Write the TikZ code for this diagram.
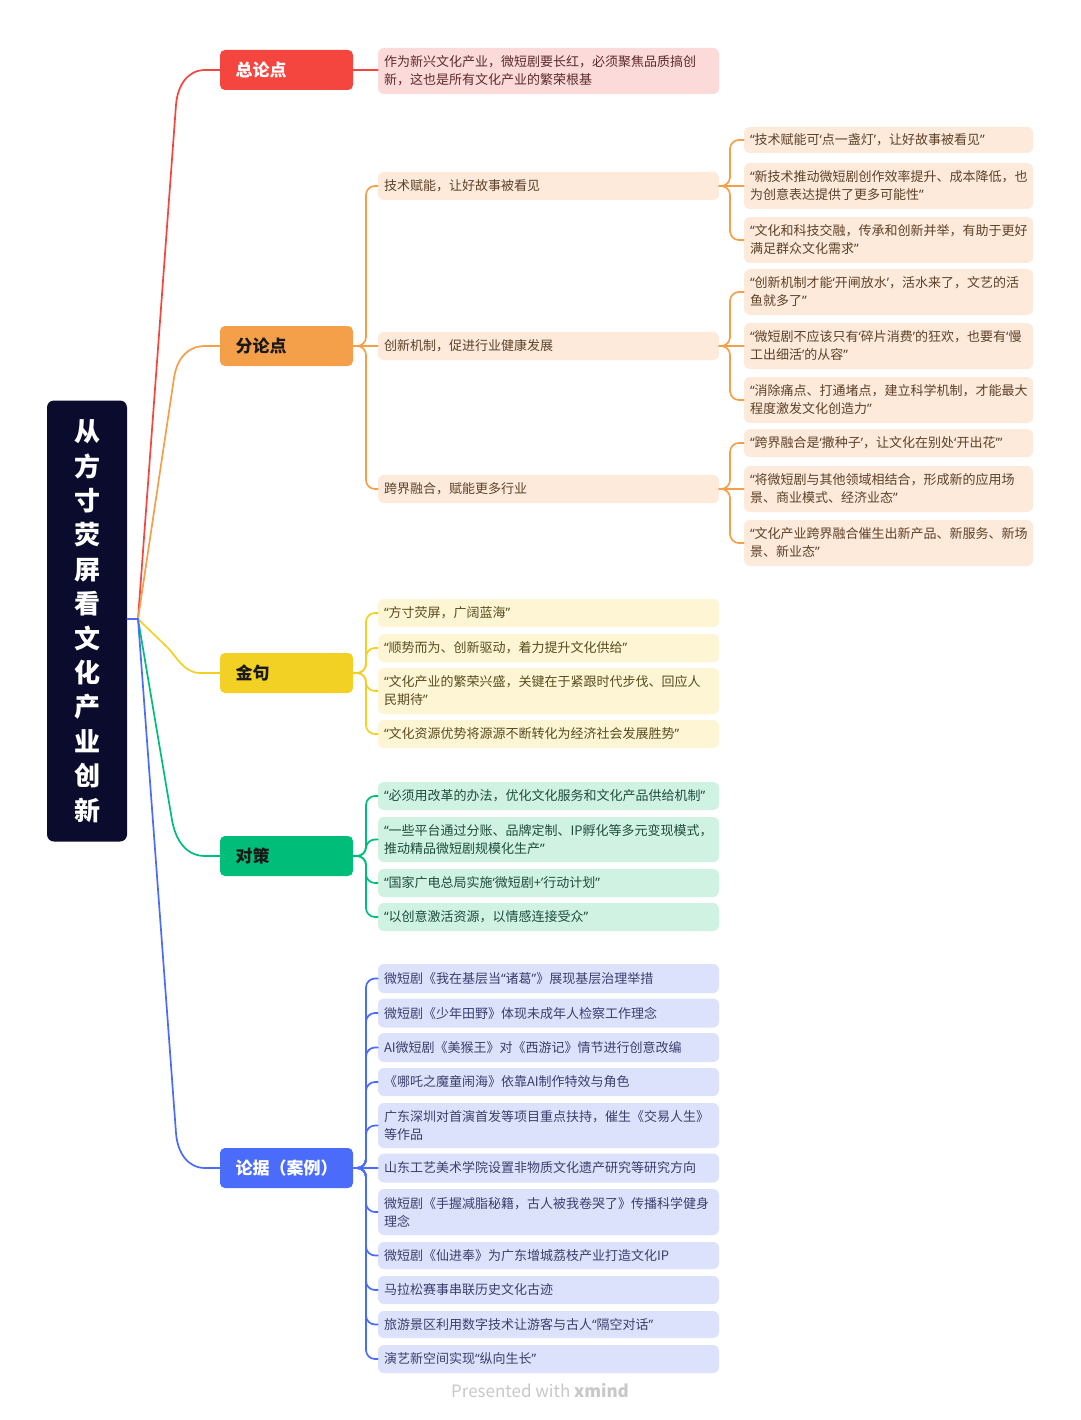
\documentclass[tikz,border=0pt]{standalone}
\usepackage{fontspec}
\setmainfont{Noto Sans CJK SC}
\newfontfamily\qf{Noto Sans}
\newcommand\myoq{{\qf “}}
\newcommand\mycq{{\qf ”}}
\newcommand\myosq{{\qf ‘}}
\newcommand\mycsq{{\qf ’}}
\definecolor{cRed}{HTML}{F5453F}
\definecolor{cOrange}{HTML}{F4A04A}
\definecolor{cYellow}{HTML}{F2D124}
\definecolor{cGreen}{HTML}{00BE7A}
\definecolor{cBlue}{HTML}{4B6BFA}
\definecolor{fRed}{HTML}{FDDADA}
\definecolor{fOrange}{HTML}{FDEADB}
\definecolor{fYellow}{HTML}{FDF5D3}
\definecolor{fGreen}{HTML}{CFF2E3}
\definecolor{fBlue}{HTML}{DDE2FC}
\definecolor{tRed}{HTML}{5C2A2A}
\definecolor{tOrange}{HTML}{5E4128}
\definecolor{tYellow}{HTML}{5A4B1E}
\definecolor{tGreen}{HTML}{1E4D3C}
\definecolor{tBlue}{HTML}{3A3F6E}
\definecolor{rootbg}{HTML}{0B0B2E}
\definecolor{footgray}{HTML}{C8C8C8}
\begin{document}
\begin{tikzpicture}[x=1pt,y=-1pt,
  lone/.style={rectangle, rounded corners=5pt, minimum width=133pt, minimum height=40pt,
    text width=102pt, align=left, inner sep=0pt, font=\fontsize{17}{20}\selectfont\bfseries},
  leaf/.style={rectangle, rounded corners=6pt, minimum width=341pt, text width=329pt,
    inner xsep=6pt, inner ysep=0pt, align=left, font=\fontsize{13}{18}\selectfont},
  leafb/.style={leaf, minimum width=289pt, text width=277pt},
  conn/.style={line width=1.7pt, line cap=round, rounded corners=9pt},
  rconn/.style={line width=1.7pt, line cap=round}]
\useasboundingbox (0,0) rectangle (1080,1420);
\fill[white] (0,0) rectangle (1080,1420);

% root
\node[fill=rootbg, rounded corners=7pt, minimum width=80pt, minimum height=441pt, text=white,
  align=center, inner sep=0pt, font=\fontsize{26}{34.4}\selectfont\bfseries] (root) at (87,621)
  {从\\方\\寸\\荧\\屏\\看\\文\\化\\产\\业\\创\\新};

% level 1
\node[lone, fill=cRed, text=white] (zl) at (286.5,70) {总论点};
\node[lone, fill=cOrange, text=black!90] (fl) at (286.5,346) {分论点};
\node[lone, fill=cYellow, text=black!90] (jj) at (286.5,673) {金句};
\node[lone, fill=cGreen, text=black!90] (dc) at (286.5,856) {对策};
\node[lone, fill=cBlue, text=white] (lj) at (286.5,1168) {论据（案例）};

% root connectors
\coordinate (rp) at (138,619);
\draw[rconn, cRed] (rp) -- (176,105) .. controls (177.5,85) and (188,70) .. (205,70) -- (zl.west);
\draw[rconn, cOrange] (rp) -- (174,378) .. controls (177,358) and (188,346) .. (205,346) -- (fl.west);
\draw[rconn, cYellow] (rp) -- (168,648) .. controls (176,656) and (184,673) .. (200,673) -- (jj.west);
\draw[rconn, cGreen] (rp) -- (172,820) .. controls (175.5,840) and (186,856) .. (205,856) -- (dc.west);
\draw[rconn, cBlue] (rp) -- (176,1133) .. controls (177.5,1153) and (188,1168) .. (205,1168) -- (lj.west);
\draw[rconn, cBlue] (root.east |- rp) -- (rp);

% 总论点
\node[leaf, fill=fRed, text=tRed, minimum height=46pt] (z1) at (548.5,71)
  {作为新兴文化产业，微短剧要长红，必须聚焦品质搞创\\新，这也是所有文化产业的繁荣根基};
\draw[rconn, cRed] (zl.east) -- (z1.west |- zl.east);

% 分论点 level 2
\node[leaf, fill=fOrange, text=tOrange, minimum height=28pt] (f1) at (548.5,186) {技术赋能，让好故事被看见};
\node[leaf, fill=fOrange, text=tOrange, minimum height=28pt] (f2) at (548.5,346) {创新机制，促进行业健康发展};
\node[leaf, fill=fOrange, text=tOrange, minimum height=28pt] (f3) at (548.5,489) {跨界融合，赋能更多行业};
\draw[conn, cOrange] (fl.east) -- (366,346) |- (f1.west);
\draw[conn, cOrange] (fl.east) -- (366,346) |- (f3.west);
\draw[rconn, cOrange] (fl.east) -- (f2.west);

% 分论点 level 3
\node[leafb, fill=fOrange, text=tOrange, minimum height=26pt] (g1) at (888.5,140) {\myoq 技术赋能可\myosq 点一盏灯\mycsq，让好故事被看见\mycq};
\node[leafb, fill=fOrange, text=tOrange, minimum height=46pt] (g2) at (888.5,186) {\myoq 新技术推动微短剧创作效率提升、成本降低，也\\为创意表达提供了更多可能性\mycq};
\node[leafb, fill=fOrange, text=tOrange, minimum height=46pt] (g3) at (888.5,240) {\myoq 文化和科技交融，传承和创新并举，有助于更好\\满足群众文化需求\mycq};
\node[leafb, fill=fOrange, text=tOrange, minimum height=46pt] (g4) at (888.5,292) {\myoq 创新机制才能\myosq 开闸放水\mycsq，活水来了，文艺的活\\鱼就多了\mycq};
\node[leafb, fill=fOrange, text=tOrange, minimum height=46pt] (g5) at (888.5,346) {\myoq 微短剧不应该只有\myosq 碎片消费\mycsq 的狂欢，也要有\myosq 慢\\工出细活\mycsq 的从容\mycq};
\node[leafb, fill=fOrange, text=tOrange, minimum height=46pt] (g6) at (888.5,400) {\myoq 消除痛点、打通堵点，建立科学机制，才能最大\\程度激发文化创造力\mycq};
\node[leafb, fill=fOrange, text=tOrange, minimum height=28pt] (g7) at (888.5,443) {\myoq 跨界融合是\myosq 撒种子\mycsq，让文化在别处\myosq 开出花\mycsq\mycq};
\node[leafb, fill=fOrange, text=tOrange, minimum height=46pt] (g8) at (888.5,489) {\myoq 将微短剧与其他领域相结合，形成新的应用场\\景、商业模式、经济业态\mycq};
\node[leafb, fill=fOrange, text=tOrange, minimum height=46pt] (g9) at (888.5,543) {\myoq 文化产业跨界融合催生出新产品、新服务、新场\\景、新业态\mycq};
\draw[conn, cOrange] (f1.east) -- (730,186) |- (g1.west);
\draw[conn, cOrange] (f1.east) -- (730,186) |- (g3.west);
\draw[rconn, cOrange] (f1.east) -- (g2.west);
\draw[conn, cOrange] (f2.east) -- (730,346) |- (g4.west);
\draw[conn, cOrange] (f2.east) -- (730,346) |- (g6.west);
\draw[rconn, cOrange] (f2.east) -- (g5.west);
\draw[conn, cOrange] (f3.east) -- (730,489) |- (g7.west);
\draw[conn, cOrange] (f3.east) -- (730,489) |- (g9.west);
\draw[rconn, cOrange] (f3.east) -- (g8.west);

% 金句
\node[leaf, fill=fYellow, text=tYellow, minimum height=28pt] (j1) at (548.5,613) {\myoq 方寸荧屏，广阔蓝海\mycq};
\node[leaf, fill=fYellow, text=tYellow, minimum height=28pt] (j2) at (548.5,648) {\myoq 顺势而为、创新驱动，着力提升文化供给\mycq};
\node[leaf, fill=fYellow, text=tYellow, minimum height=46pt] (j3) at (548.5,691) {\myoq 文化产业的繁荣兴盛，关键在于紧跟时代步伐、回应人\\民期待\mycq};
\node[leaf, fill=fYellow, text=tYellow, minimum height=28pt] (j4) at (548.5,734) {\myoq 文化资源优势将源源不断转化为经济社会发展胜势\mycq};
\foreach \n in {j1,j2,j3,j4}
  \draw[conn, cYellow] (jj.east) -- (366,673) |- (\n.west);

% 对策
\node[leaf, fill=fGreen, text=tGreen, minimum height=28pt] (d1) at (548.5,796) {\myoq 必须用改革的办法，优化文化服务和文化产品供给机制\mycq};
\node[leaf, fill=fGreen, text=tGreen, minimum height=45pt] (d2) at (548.5,839.5) {\myoq 一些平台通过分账、品牌定制、IP孵化等多元变现模式，\\推动精品微短剧规模化生产\mycq};
\node[leaf, fill=fGreen, text=tGreen, minimum height=28pt] (d3) at (548.5,883) {\myoq 国家广电总局实施\myosq 微短剧+\mycsq 行动计划\mycq};
\node[leaf, fill=fGreen, text=tGreen, minimum height=28pt] (d4) at (548.5,917) {\myoq 以创意激活资源，以情感连接受众\mycq};
\foreach \n in {d1,d2,d3,d4}
  \draw[conn, cGreen] (dc.east) -- (366,856) |- (\n.west);

% 论据
\node[leaf, fill=fBlue, text=tBlue, minimum height=29pt] (e1) at (548.5,978.5) {微短剧《我在基层当\myoq 诸葛\mycq》展现基层治理举措};
\node[leaf, fill=fBlue, text=tBlue, minimum height=29pt] (e2) at (548.5,1013) {微短剧《少年田野》体现未成年人检察工作理念};
\node[leaf, fill=fBlue, text=tBlue, minimum height=29pt] (e3) at (548.5,1047.5) {AI微短剧《美猴王》对《西游记》情节进行创意改编};
\node[leaf, fill=fBlue, text=tBlue, minimum height=28pt] (e4) at (548.5,1082) {《哪吒之魔童闹海》依靠AI制作特效与角色};
\node[leaf, fill=fBlue, text=tBlue, minimum height=45pt] (e5) at (548.5,1125.5) {广东深圳对首演首发等项目重点扶持，催生《交易人生》\\等作品};
\node[leaf, fill=fBlue, text=tBlue, minimum height=29pt] (e6) at (548.5,1168) {山东工艺美术学院设置非物质文化遗产研究等研究方向};
\node[leaf, fill=fBlue, text=tBlue, minimum height=46pt] (e7) at (548.5,1212) {微短剧《手握减脂秘籍，古人被我卷哭了》传播科学健身\\理念};
\node[leaf, fill=fBlue, text=tBlue, minimum height=27pt] (e8) at (548.5,1255.5) {微短剧《仙进奉》为广东增城荔枝产业打造文化IP};
\node[leaf, fill=fBlue, text=tBlue, minimum height=28pt] (e9) at (548.5,1290) {马拉松赛事串联历史文化古迹};
\node[leaf, fill=fBlue, text=tBlue, minimum height=27pt] (e10) at (548.5,1324.5) {旅游景区利用数字技术让游客与古人\myoq 隔空对话\mycq};
\node[leaf, fill=fBlue, text=tBlue, minimum height=28pt] (e11) at (548.5,1359) {演艺新空间实现\myoq 纵向生长\mycq};
\foreach \n in {e1,e2,e3,e4,e5,e7,e8,e9,e10,e11}
  \draw[conn, cBlue] (lj.east) -- (366,1168) |- (\n.west);
\draw[rconn, cBlue] (lj.east) -- (e6.west);

% footer
\node[text=footgray, font=\fontsize{17}{20}\selectfont] (ft) at (540,1391) {Presented with \textbf{xmind}};
\end{tikzpicture}
\end{document}
